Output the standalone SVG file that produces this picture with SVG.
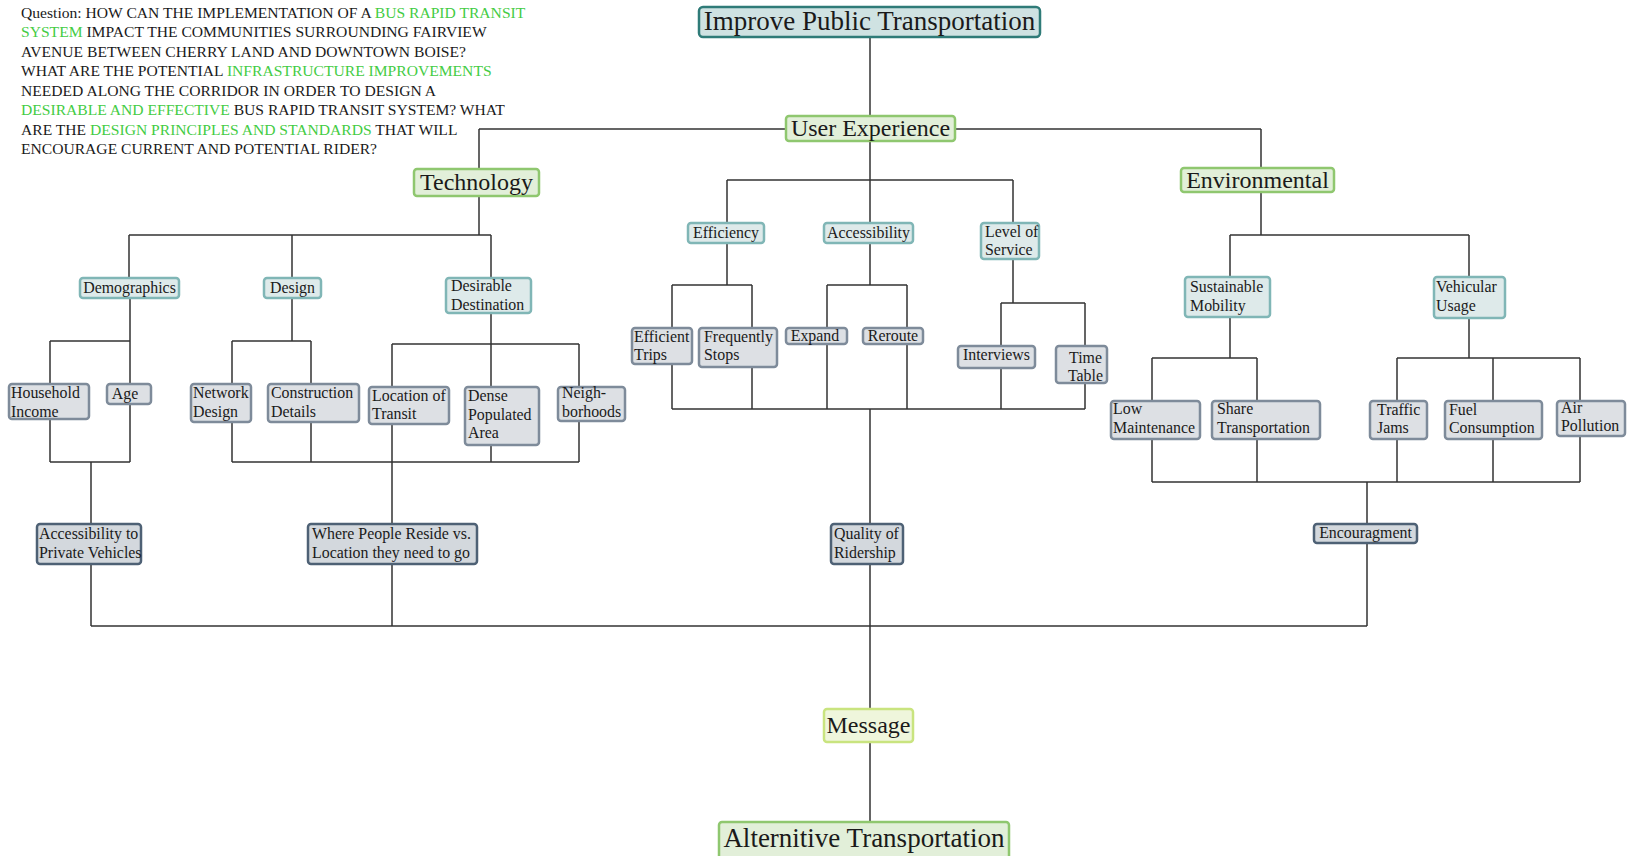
<svg xmlns="http://www.w3.org/2000/svg" width="1640" height="856" viewBox="0 0 1640 856">
<style>
text{font-family:"Liberation Serif","Times New Roman",serif;fill:#1a1a1a}
.q{font-size:15.6px}
.g{fill:#44cc44}
.lines path{fill:none;stroke:#333;stroke-width:1.5}
rect{stroke-width:2.5}
.top{fill:#cfe2e2;stroke:#2f7b78}
.lv1{fill:#e2efd9;stroke:#8fc76f}
.msg{fill:#eff6dc;stroke:#c9e47f}
.mid{fill:#deeaea;stroke:#80b6b6}
.leaf{fill:#dde0e4;stroke:#7e8b9a}
.dk{fill:#d3d8dd;stroke:#4e6175}
.big{font-size:27px}
.l1{font-size:24px}
.s{font-size:15.9px}
.c{text-anchor:middle}
.r{text-anchor:end}
</style>

<g id="question">
<text class="q" x="21" y="17.5">Question: HOW CAN THE IMPLEMENTATION OF A <tspan class="g">BUS RAPID TRANSIT</tspan></text>
<text class="q" x="21" y="37"><tspan class="g">SYSTEM</tspan> IMPACT THE COMMUNITIES SURROUNDING FAIRVIEW</text>
<text class="q" x="21" y="56.5">AVENUE BETWEEN CHERRY LAND AND DOWNTOWN BOISE?</text>
<text class="q" x="21" y="76">WHAT ARE THE POTENTIAL <tspan class="g">INFRASTRUCTURE IMPROVEMENTS</tspan></text>
<text class="q" x="21" y="95.5">NEEDED ALONG THE CORRIDOR IN ORDER TO DESIGN A</text>
<text class="q" x="21" y="115"><tspan class="g">DESIRABLE AND EFFECTIVE</tspan> BUS RAPID TRANSIT SYSTEM? WHAT</text>
<text class="q" x="21" y="134.5">ARE THE <tspan class="g">DESIGN PRINCIPLES AND STANDARDS</tspan> THAT WILL</text>
<text class="q" x="21" y="154">ENCOURAGE CURRENT AND POTENTIAL RIDER?</text>
</g>

<g id="connectors" class="lines">
<path d="M870,37V116"/>
<path d="M479,129H1261M479,129V169M1261,129V168"/>
<path d="M870,141V223M727,180H1013M727,180V223M1013,180V223"/>
<path d="M479,196V235M129,235H491M129,235V278M292,235V278M491,235V278"/>
<path d="M130,298V341M50,341H130M50,341V384M130,341V384"/>
<path d="M50,419V462M130,404V462M50,462H130M91,462V524M91,564V626"/>
<path d="M292,298V341M232,341H311M232,341V384M311,341V384M232,422V462M311,422V462"/>
<path d="M491,313V344M392,344H579M392,344V387M491,344V387M579,344V387"/>
<path d="M392,424V524M491,445V462M579,421V462M232,462H579M392,564V626"/>
<path d="M727,243V285M672,285H752M672,285V328M752,285V328M672,364V409M752,367V409"/>
<path d="M870,243V285M827,285H907M827,285V328M907,285V328M827,344V409M907,344V409"/>
<path d="M1013,259V303M1001,303H1085M1001,303V346M1085,303V346M1001,368V409M1085,383V409"/>
<path d="M672,409H1085M870,409V524M870,564V709M870,742V822"/>
<path d="M1261,192V235M1230,235H1469M1230,235V277M1469,235V277"/>
<path d="M1230,317V358M1152,358H1257M1152,358V401M1257,358V401"/>
<path d="M1469,318V358M1397,358H1580M1397,358V401M1493,358V401M1580,358V401"/>
<path d="M1152,439V482M1257,439V482M1397,439V482M1493,439V482M1580,436V482M1152,482H1580M1367,482V524M1367,543V626"/>
<path d="M91,626H1367"/>
</g>

<g id="n-title"><rect class="top" x="699" y="7" width="341" height="30" rx="4"/><text class="c" style="font-size:27px" x="869.5" y="29.5">Improve Public Transportation</text></g>
<g id="n-ux"><rect class="lv1" x="786" y="116" width="169" height="25" rx="3"/><text class="l1 c" x="870.5" y="135.5">User Experience</text></g>
<g id="n-tech"><rect class="lv1" x="414" y="169" width="125" height="27" rx="3"/><text class="l1 c" x="476.5" y="189.5">Technology</text></g>
<g id="n-env"><rect class="lv1" x="1181" y="168" width="153" height="24" rx="3"/><text class="l1 c" x="1257.5" y="188">Environmental</text></g>

<g id="n-demo"><rect class="mid" x="80" y="278" width="99" height="20" rx="3"/><text class="s c" x="129.5" y="293">Demographics</text></g>
<g id="n-design"><rect class="mid" x="264" y="278" width="57" height="20" rx="3"/><text class="s c" x="292.5" y="293">Design</text></g>
<g id="n-dd"><rect class="mid" x="446" y="278" width="85" height="35" rx="3"/><text class="s" x="451" y="291">Desirable</text><text class="s" x="451" y="310">Destination</text></g>

<g id="n-eff"><rect class="mid" x="688" y="223" width="76" height="20" rx="3"/><text class="s c" x="726" y="238">Efficiency</text></g>
<g id="n-acc"><rect class="mid" x="824" y="223" width="89" height="20" rx="3"/><text class="s c" x="868.5" y="238">Accessibility</text></g>
<g id="n-los"><rect class="mid" x="981" y="223" width="58" height="36" rx="3"/><text class="s" x="985" y="237">Level of</text><text class="s" x="985" y="255">Service</text></g>

<g id="n-sust"><rect class="mid" x="1185" y="277" width="85" height="40" rx="3"/><text class="s" x="1190" y="292">Sustainable</text><text class="s" x="1190" y="311">Mobility</text></g>
<g id="n-veh"><rect class="mid" x="1434" y="277" width="71" height="41" rx="3"/><text class="s" x="1436" y="292">Vehicular</text><text class="s" x="1436" y="311">Usage</text></g>

<g id="n-hi"><rect class="leaf" x="9" y="384" width="80" height="35" rx="3"/><text class="s" x="11" y="398">Household</text><text class="s" x="11" y="417">Income</text></g>
<g id="n-age"><rect class="leaf" x="107" y="384" width="44" height="20" rx="3"/><text class="s c" x="125" y="399">Age</text></g>
<g id="n-nd"><rect class="leaf" x="191" y="384" width="60" height="38" rx="3"/><text class="s" x="193" y="398">Network</text><text class="s" x="193" y="417">Design</text></g>
<g id="n-cd"><rect class="leaf" x="268" y="384" width="91" height="38" rx="3"/><text class="s" x="271" y="398">Construction</text><text class="s" x="271" y="417">Details</text></g>
<g id="n-lot"><rect class="leaf" x="369" y="387" width="80" height="37" rx="3"/><text class="s" x="372" y="401">Location of</text><text class="s" x="372" y="419">Transit</text></g>
<g id="n-dpa"><rect class="leaf" x="465" y="387" width="74" height="58" rx="3"/><text class="s" x="468" y="401">Dense</text><text class="s" x="468" y="420">Populated</text><text class="s" x="468" y="438">Area</text></g>
<g id="n-nb"><rect class="leaf" x="558" y="387" width="67" height="34" rx="3"/><text class="s" x="562" y="398">Neigh-</text><text class="s" x="562" y="417">borhoods</text></g>

<g id="n-et"><rect class="leaf" x="632" y="328" width="60" height="36" rx="3"/><text class="s" x="634" y="342">Efficient</text><text class="s" x="634" y="360">Trips</text></g>
<g id="n-fs"><rect class="leaf" x="699" y="328" width="78" height="39" rx="3"/><text class="s" x="704" y="342">Frequently</text><text class="s" x="704" y="360">Stops</text></g>
<g id="n-exp"><rect class="leaf" x="786" y="328" width="61" height="16" rx="3"/><text class="s c" x="815" y="341">Expand</text></g>
<g id="n-rer"><rect class="leaf" x="863" y="328" width="60" height="16" rx="3"/><text class="s c" x="893" y="341">Reroute</text></g>
<g id="n-int"><rect class="leaf" x="958" y="346" width="77" height="22" rx="3"/><text class="s c" x="996.5" y="360">Interviews</text></g>
<g id="n-tt"><rect class="leaf" x="1056" y="346" width="51" height="37" rx="3"/><text class="s r" x="1102" y="363">Time</text><text class="s r" x="1103" y="381">Table</text></g>

<g id="n-lm"><rect class="leaf" x="1111" y="401" width="89" height="38" rx="3"/><text class="s" x="1113" y="414">Low</text><text class="s" x="1113" y="433">Maintenance</text></g>
<g id="n-st"><rect class="leaf" x="1212" y="401" width="108" height="38" rx="3"/><text class="s" x="1217" y="414">Share</text><text class="s" x="1217" y="433">Transportation</text></g>
<g id="n-tj"><rect class="leaf" x="1370" y="401" width="57" height="38" rx="3"/><text class="s" x="1377" y="415">Traffic</text><text class="s" x="1377" y="433">Jams</text></g>
<g id="n-fc"><rect class="leaf" x="1445" y="401" width="97" height="38" rx="3"/><text class="s" x="1449" y="415">Fuel</text><text class="s" x="1449" y="433">Consumption</text></g>
<g id="n-ap"><rect class="leaf" x="1557" y="401" width="68" height="35" rx="3"/><text class="s" x="1561" y="413">Air</text><text class="s" x="1561" y="431">Pollution</text></g>

<g id="n-apv"><rect class="dk" x="37" y="524" width="104" height="40" rx="3"/><text class="s" x="39" y="539">Accessibility to</text><text class="s" x="39" y="558">Private Vehicles</text></g>
<g id="n-wpr"><rect class="dk" x="308" y="524" width="169" height="40" rx="3"/><text class="s" x="312" y="539">Where People Reside vs.</text><text class="s" x="312" y="558">Location they need to go</text></g>
<g id="n-qor"><rect class="dk" x="831" y="524" width="72" height="40" rx="3"/><text class="s" x="834" y="539">Quality of</text><text class="s" x="834" y="558">Ridership</text></g>
<g id="n-enc"><rect class="dk" x="1314" y="524" width="103" height="19" rx="3"/><text class="s c" x="1365.5" y="538">Encouragment</text></g>

<g id="n-msg"><rect class="msg" x="824" y="709" width="89" height="33" rx="3"/><text class="c" style="font-size:24px" x="868.5" y="732.5">Message</text></g>
<g id="n-alt"><rect class="lv1" x="719" y="822" width="290" height="40" rx="3"/><text class="big c" x="864" y="846.5">Alternitive Transportation</text></g>
</svg>
